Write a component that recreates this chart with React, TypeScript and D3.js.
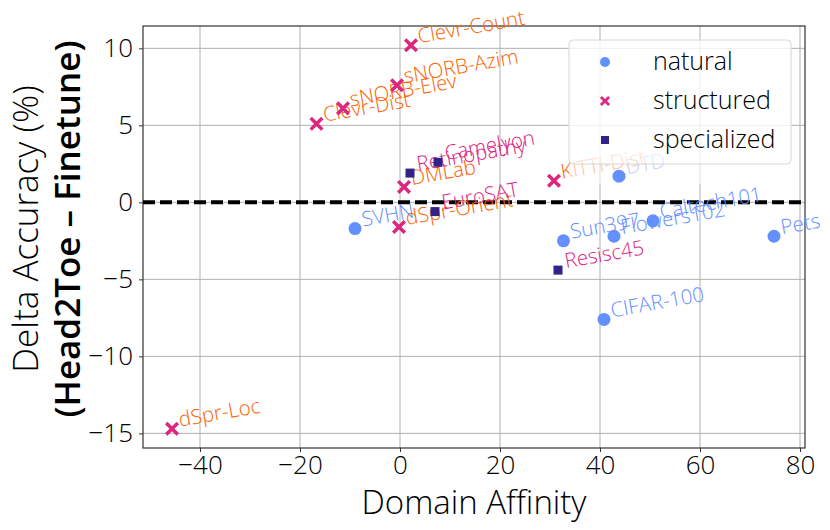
import { useEffect, useRef } from "react";
import * as d3 from "d3";

// dataset names, domain affinity (x) and delta accuracy (y)
const naturalNames = ["SVHN", "DTD", "Sun397", "Flowers102", "Caltech101", "Pets", "CIFAR-100"];
const naturalX = [-9, 43.8, 32.7, 42.8, 50.6, 74.8, 40.8];
const naturalY = [-1.7, 1.7, -2.5, -2.2, -1.2, -2.2, -7.6];

const structuredNames = ["Clevr-Count", "sNORB-Azim", "sNORB-Elev", "Clevr-Dist", "DMLab", "KITTI-Dist", "dSpr-Orient", "dSpr-Loc"];
const structuredX = [2.2, -0.6, -11.4, -16.7, 0.8, 30.8, -0.2, -45.6];
const structuredY = [10.2, 7.6, 6.1, 5.1, 1.0, 1.4, -1.6, -14.7];

const specializedNames = ["Retinopathy", "Camelyon", "EuroSAT", "Resisc45"];
const specializedX = [2, 7.6, 7, 31.6];
const specializedY = [1.9, 2.6, -0.6, -4.4];

const xTicks = [-40, -20, 0, 20, 40, 60, 80];
const yTicks = [-15, -10, -5, 0, 5, 10];
const legendLabels = ["natural", "structured", "specialized"];

export default function App() {
  const ref = useRef<SVGSVGElement>(null);

  useEffect(() => {
    const svg = d3.select(ref.current);
    svg.selectAll("*").remove();
    const font = "'Open Sans', sans-serif";

    const left = 143, right = 805, top = 26, bottom = 448;
    const x = d3.scaleLinear().domain([-51.4, 81]).range([left, right]);
    const y = d3.scaleLinear().domain([-15.95, 11.45]).range([bottom, top]);

    // grid
    const grid = svg.append("g");
    grid.selectAll(".gx").data(xTicks).enter().append("line")
      .attr("x1", (d) => x(d)).attr("x2", (d) => x(d))
      .attr("y1", top).attr("y2", bottom)
      .attr("stroke", "#b0b0b0").attr("stroke-width", 1);
    grid.selectAll(".gy").data(yTicks).enter().append("line")
      .attr("x1", left).attr("x2", right)
      .attr("y1", (d) => y(d)).attr("y2", (d) => y(d))
      .attr("stroke", "#b0b0b0").attr("stroke-width", 1);

    // axes
    const fmt = (d: any) => String(d).replace("-", "\u2212");
    const xAxis = svg.append("g").attr("transform", `translate(0,${bottom})`)
      .call(d3.axisBottom(x).tickValues(xTicks).tickFormat(fmt).tickSize(4).tickPadding(3));
    const yAxis = svg.append("g").attr("transform", `translate(${left},0)`)
      .call(d3.axisLeft(y).tickValues(yTicks).tickFormat(fmt).tickSize(4).tickPadding(6));
    [xAxis, yAxis].forEach((a) => {
      a.select(".domain").remove();
      a.selectAll("text").attr("font-family", font).attr("font-size", 26)
        .attr("font-weight", 300).attr("fill", "#000");
      a.selectAll("line").attr("stroke", "#333");
    });
    xAxis.selectAll("text").attr("dy", "0.74em");

    svg.append("rect")
      .attr("x", left).attr("y", top)
      .attr("width", right - left).attr("height", bottom - top)
      .attr("fill", "none").attr("stroke", "#333").attr("stroke-width", 1.2);

    // zero line
    svg.append("line")
      .attr("x1", left).attr("x2", right)
      .attr("y1", y(0)).attr("y2", y(0))
      .attr("stroke", "#000").attr("stroke-width", 4)
      .attr("stroke-dasharray", "12,5");

    const blue = "#648FFF", magenta = "#DC267F", orange = "#FE6100", navy = "#332288";
    const cross = d3.symbol().type(d3.symbolX).size(90)();
    const plus = d3.symbol().type(d3.symbolX).size(90);

    const drawLabels = (names: string[], xs: number[], ys: number[], color: string) => {
      svg.append("g").selectAll("text").data(names).enter().append("text")
        .attr("transform", (d, i) => `translate(${x(xs[i]) + 8},${y(ys[i]) - 2}) rotate(-10)`)
        .attr("font-family", font).attr("font-size", 20.5).attr("font-weight", 300)
        .attr("fill", color)
        .text((d) => d);
    };

    drawLabels(naturalNames, naturalX, naturalY, blue);
    drawLabels(structuredNames, structuredX, structuredY, orange);
    drawLabels(specializedNames, specializedX, specializedY, magenta);

    // labels under the legend area look washed out
    svg.append("rect").attr("x", 569).attr("y", 164).attr("width", 222).attr("height", 20)
      .attr("fill", "#fff").attr("opacity", 0.6);

    // natural
    svg.append("g").selectAll("circle").data(naturalNames).enter().append("circle")
      .attr("cx", (d, i) => x(naturalX[i])).attr("cy", (d, i) => y(naturalY[i]))
      .attr("r", 6.5).attr("fill", blue);
    // structured
    svg.append("g").selectAll("path").data(structuredNames).enter().append("path")
      .attr("d", plus)
      .attr("transform", (d, i) => `translate(${x(structuredX[i])},${y(structuredY[i])})`)
      .attr("fill", "none").attr("stroke", magenta).attr("stroke-width", 3.5);
    // specialized
    svg.append("g").selectAll("rect").data(specializedNames).enter().append("rect")
      .attr("x", (d, i) => x(specializedX[i]) - 4.5).attr("y", (d, i) => y(specializedY[i]) - 4.5)
      .attr("width", 9).attr("height", 9).attr("fill", navy);

    // legend
    const lg = svg.append("g").attr("transform", "translate(569,40)");
    lg.append("rect").attr("width", 222).attr("height", 124).attr("rx", 4)
      .attr("fill", "rgba(255,255,255,0.8)").attr("stroke", "#d6d6d6");
    legendLabels.forEach((name, i) => {
      const cy = 22 + i * 39;
      if (i === 0) lg.append("circle").attr("cx", 36).attr("cy", cy).attr("r", 5).attr("fill", blue);
      if (i === 1) lg.append("path").attr("d", cross).attr("transform", `translate(36,${cy}) scale(0.7)`)
        .attr("fill", "none").attr("stroke", magenta).attr("stroke-width", 4);
      if (i === 2) lg.append("rect").attr("x", 32).attr("y", cy - 4).attr("width", 8).attr("height", 8).attr("fill", navy);
      lg.append("text").attr("x", 84).attr("y", cy + 8)
        .attr("font-family", font).attr("font-size", 25).attr("font-weight", 300)
        .attr("fill", "#000").text(name);
    });

    // axis titles
    svg.append("text").attr("x", (left + right) / 2).attr("y", 514)
      .attr("text-anchor", "middle").attr("font-family", font).attr("font-size", 33)
      .attr("font-weight", 300).text("Domain Affinity");
    const yl = svg.append("g").attr("transform", "translate(0,229) rotate(-90)");
    yl.append("text").attr("x", 0).attr("y", 38).attr("text-anchor", "middle")
      .attr("font-family", font).attr("font-size", 35).attr("font-weight", 300)
      .text("Delta Accuracy (%)");
    yl.append("text").attr("x", 0).attr("y", 80).attr("text-anchor", "middle")
      .attr("font-family", font).attr("font-size", 35).attr("font-weight", 600)
      .text("(Head2Toe \u2013 Finetune)");
  }, []);

  return (
    <svg ref={ref} width={830} height={530}
      style={{ position: "absolute", left: 0, top: 0, background: "#fff" }} />
  );
}
